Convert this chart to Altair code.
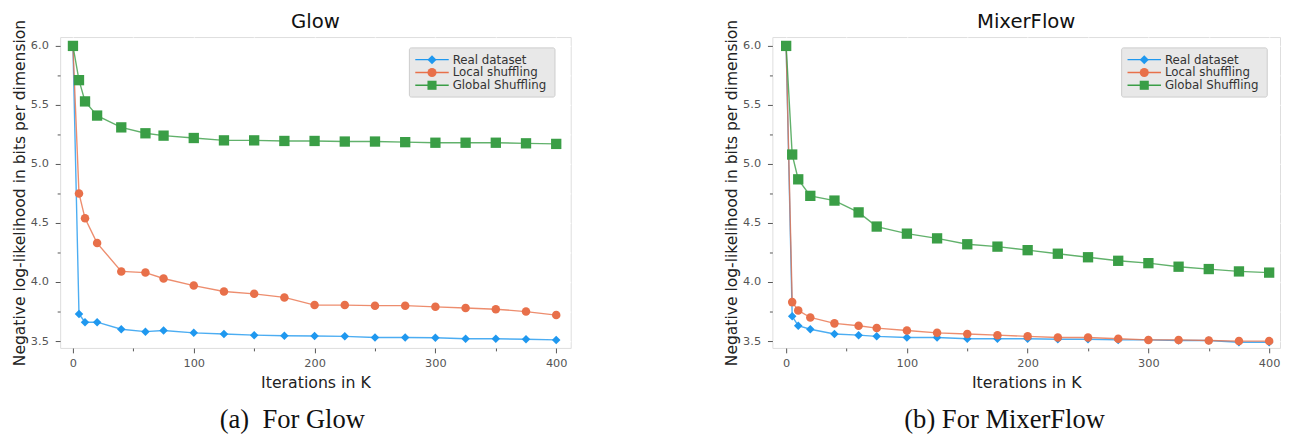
import altair as alt
import pandas as pd

iters = [0, 5, 10, 20, 40, 60, 75, 100, 125, 150, 175, 200, 225, 250, 275, 300, 325, 350, 375, 400]

series_names = ["Real dataset", "Local shuffling", "Global Shuffling"]
series_colors = ["#1f98ef", "#e8704a", "#3a9e46"]
series_shapes = ["diamond", "circle", "square"]
series_sizes = [75, 75, 110]

glow_real = [6.0, 3.73, 3.66, 3.66, 3.60, 3.58, 3.59, 3.57, 3.56, 3.55, 3.545, 3.543, 3.54, 3.53, 3.53, 3.528, 3.52, 3.52, 3.515, 3.51]
glow_local = [6.0, 4.75, 4.54, 4.33, 4.09, 4.08, 4.03, 3.97, 3.92, 3.90, 3.87, 3.805, 3.805, 3.80, 3.80, 3.79, 3.78, 3.77, 3.75, 3.72]
glow_global = [6.0, 5.71, 5.53, 5.41, 5.31, 5.26, 5.24, 5.22, 5.20, 5.20, 5.195, 5.195, 5.19, 5.19, 5.185, 5.18, 5.18, 5.18, 5.175, 5.17]

mixer_real = [6.0, 3.71, 3.63, 3.60, 3.56, 3.55, 3.54, 3.53, 3.53, 3.52, 3.52, 3.52, 3.515, 3.515, 3.51, 3.51, 3.505, 3.505, 3.49, 3.49]
mixer_local = [6.0, 3.83, 3.76, 3.70, 3.65, 3.63, 3.61, 3.59, 3.57, 3.56, 3.55, 3.54, 3.53, 3.53, 3.52, 3.51, 3.51, 3.505, 3.50, 3.50]
mixer_global = [6.0, 5.08, 4.87, 4.73, 4.69, 4.59, 4.47, 4.41, 4.37, 4.32, 4.30, 4.27, 4.24, 4.21, 4.18, 4.16, 4.13, 4.11, 4.09, 4.08]

y_ticks = [3.5, 3.75, 4.0, 4.25, 4.5, 4.75, 5.0, 5.25, 5.5, 5.75, 6.0]
x_ticks = [0, 50, 100, 150, 200, 250, 300, 350, 400]

FONT = "DejaVu Sans"
Y_DOMAIN = [3.442, 6.075]
PLOT_H = 316


def panel(title, caption, values, width, x_domain):
    xs = alt.X(
        "iter:Q",
        scale=alt.Scale(domain=x_domain, nice=False, zero=False),
        axis=alt.Axis(
            values=x_ticks,
            title="Iterations in K",
            grid=True,
            gridColor="white",
            gridWidth=1.3,
            domain=False,
            tickColor="#555555",
            tickSize={"condition": {"test": "datum.value % 100 === 0", "value": 5}, "value": 3},
            labelExpr="datum.value % 100 === 0 ? format(datum.value, 'd') : ''",
            labelFont=FONT,
            labelFontSize=11.5,
            labelColor="#555555",
            labelPadding=5,
            titleFont=FONT,
            titleFontSize=16,
            titleFontWeight="normal",
            titleColor="#222222",
            titlePadding=6,
        ),
    )
    ys = alt.Y(
        "val:Q",
        scale=alt.Scale(domain=Y_DOMAIN, nice=False, zero=False),
        axis=alt.Axis(
            values=y_ticks,
            title="Negative log-likelihood in bits per dimension",
            grid=True,
            gridColor="white",
            gridWidth=1.3,
            domain=False,
            tickColor="#555555",
            tickSize={"condition": {"test": "datum.value % 0.5 === 0", "value": 5}, "value": 3},
            labelExpr="datum.value % 0.5 === 0 ? format(datum.value, '.1f') : ''",
            labelFont=FONT,
            labelFontSize=11.5,
            labelColor="#555555",
            labelPadding=7,
            titleFont=FONT,
            titleFontSize=15.8,
            titleFontWeight="normal",
            titleColor="#222222",
            titlePadding=3,
        ),
    )
    layers = []
    for name, vals, color, shape, size in zip(series_names, values, series_colors, series_shapes, series_sizes):
        df = pd.DataFrame({"iter": iters, "val": vals})
        base = alt.Chart(df)
        layers.append(base.mark_line(color=color, strokeWidth=1.4, opacity=0.8).encode(x=xs, y=ys))
        layers.append(
            base.mark_point(filled=True, color=color, shape=shape, size=size, opacity=1).encode(x=xs, y=ys)
        )

    # legend (drawn inside the plot, upper right)
    leg = pd.DataFrame({"name": series_names, "idx": [0, 1, 2], "color": series_colors, "shape": series_shapes})
    lb = alt.Chart(leg)
    box = alt.Chart(pd.DataFrame({"a": [0]})).mark_rect(
        fill="#E2E2E2", fillOpacity=0.8, stroke="#CCCCCC", strokeWidth=1, cornerRadius=2
    ).encode(x=alt.value(355), x2=alt.value(503), y=alt.value(11), y2=alt.value(61))
    leg_line = lb.transform_calculate(py="23 + datum.idx * 13").mark_rule(strokeWidth=1.4).encode(
        x=alt.value(361), x2=alt.value(395), y=alt.Y("py:Q", scale=None),
        color=alt.Color("color:N", scale=None),
    )
    leg_pts = lb.transform_calculate(py="23 + datum.idx * 13").mark_point(filled=True, opacity=1, size=85).encode(
        x=alt.value(378), y=alt.Y("py:Q", scale=None),
        color=alt.Color("color:N", scale=None),
        shape=alt.Shape("shape:N", scale=None),
    )
    leg_txt = lb.transform_calculate(py="23 + datum.idx * 13").mark_text(
        align="left", baseline="middle", font=FONT, fontSize=12, color="#333333"
    ).encode(x=alt.value(399), y=alt.Y("py:Q", scale=None), text="name:N")

    ttl = alt.Chart(pd.DataFrame({"t": [title]})).mark_text(
        font=FONT, fontSize=20, color="#111111", align="center", baseline="alphabetic"
    ).encode(x=alt.value(width / 2), y=alt.value(-9), text="t:N")

    cap = alt.Chart(pd.DataFrame({"t": [caption]})).mark_text(
        font="Liberation Serif", fontSize=27, color="#111111", align="center", baseline="alphabetic"
    ).encode(x=alt.value(236), y=alt.value(397), text="t:N")

    return alt.layer(*layers, box, leg_line, leg_pts, leg_txt, ttl, cap).properties(
        width=width,
        height=PLOT_H,
    )


left = panel("Glow", "(a)\u00a0\u00a0For Glow", [glow_real, glow_local, glow_global], 519, [-10.6, 412])
right = panel("MixerFlow", "(b) For MixerFlow", [mixer_real, mixer_local, mixer_global], 516, [-11.4, 409.0])

chart = alt.hconcat(left, right, spacing=154).properties(
    padding={"left": 3, "top": 0, "right": 0, "bottom": 0}
).configure_view(fill="#E2E2E2", strokeWidth=0).configure(background="white")

chart.save("out.html", embed_options={"renderer": "svg", "actions": False})
